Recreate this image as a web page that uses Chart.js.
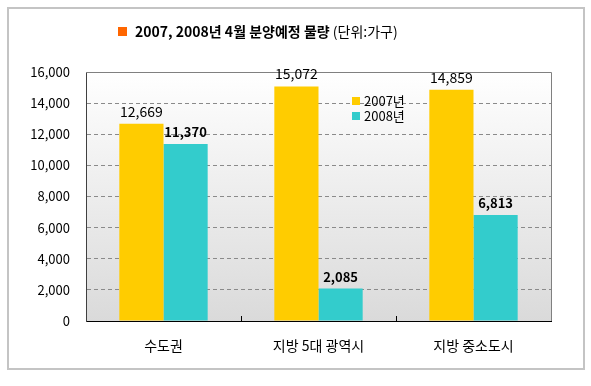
<!DOCTYPE html>
<html><head><meta charset="utf-8">
<script src="https://cdn.jsdelivr.net/npm/chart.js@4/dist/chart.umd.min.js"></script>
<style>html,body{margin:0;padding:0;background:#fff}#wrap{width:591px;height:386px;position:relative}</style>
</head><body><div id="wrap"><canvas id="c" width="591" height="386"></canvas></div>
<script>
const categories = ['수도권', '지방 5대 광역시', '지방 중소도시'];
const series2007 = [12669, 15072, 14859];
const series2008 = [11370, 2085, 6813];
const seriesNames = ['2007년', '2008년'];
const titleBold = '2007, 2008년 4월 분양예정 물량';
const titleUnit = ' (단위:가구)';
const yTicks = [0, 2000, 4000, 6000, 8000, 10000, 12000, 14000, 16000];

const FONT = '"Noto Sans CJK KR", "Noto Sans", sans-serif';
const colors = ['#FFCC00', '#33CCCC'];
const fmt = v => v.toLocaleString('en-US');

const decor = {
  id: 'decor',
  beforeDraw(chart) {
    const {ctx, chartArea: a} = chart;
    ctx.save();
    ctx.fillStyle = '#fff';
    ctx.fillRect(0, 0, chart.width, chart.height);
    ctx.strokeStyle = '#c4c4c4';
    ctx.lineWidth = 2;
    ctx.strokeRect(8, 8, 576, 361);
    const g = ctx.createLinearGradient(0, a.top, 0, a.bottom);
    g.addColorStop(0, '#ffffff');
    g.addColorStop(1, '#dadada');
    ctx.fillStyle = g;
    ctx.fillRect(a.left, a.top, a.right - a.left, a.bottom - a.top);
    ctx.restore();
  },
  afterDraw(chart) {
    const {ctx, chartArea: a} = chart;
    ctx.save();
    ctx.strokeStyle = '#808080';
    ctx.lineWidth = 1;
    ctx.beginPath();
    ctx.moveTo(a.left, a.top + 0.5); ctx.lineTo(a.right + 0.5, a.top + 0.5); ctx.lineTo(a.right + 0.5, a.bottom);
    ctx.stroke();
    const xs = chart.scales.x;
    ctx.strokeStyle = '#000';
    for (let i = 1; i < categories.length; i++) {
      const x = Math.round((xs.getPixelForValue(i - 1) + xs.getPixelForValue(i)) / 2) + 0.5;
      ctx.beginPath(); ctx.moveTo(x, a.bottom); ctx.lineTo(x, a.bottom - 5); ctx.stroke();
    }
    ctx.textAlign = 'center';
    ctx.textBaseline = 'alphabetic';
    chart.data.datasets.forEach((ds, di) => {
      const meta = chart.getDatasetMeta(di);
      ctx.font = di === 0 ? '14px ' + FONT : 'bold 13px ' + FONT;
      ctx.fillStyle = '#000';
      meta.data.forEach((bar, i) => {
        ctx.fillText(fmt(ds.data[i]), bar.x, bar.y - 7);
      });
    });
    ctx.textAlign = 'left';
    ctx.textBaseline = 'middle';
    ctx.font = '13px ' + FONT;
    seriesNames.forEach((n, i) => {
      const y = 101 + i * 15;
      ctx.fillStyle = colors[i];
      ctx.fillRect(352, y - 4, 8, 8);
      ctx.fillStyle = '#000';
      ctx.fillText(n, 364, y);
    });
    ctx.font = 'bold 14px ' + FONT;
    const w1 = ctx.measureText(titleBold).width;
    ctx.font = '14px ' + FONT;
    const w2 = ctx.measureText(titleUnit).width;
    let x = 118;
    ctx.fillStyle = '#FF6600';
    ctx.fillRect(x, 27, 9, 9);
    x = 135;
    ctx.fillStyle = '#000';
    ctx.font = 'bold 14px ' + FONT;
    ctx.fillText(titleBold, x, 32);
    ctx.font = '14px ' + FONT;
    ctx.fillText(titleUnit, x + w1, 32);
    ctx.restore();
  }
};

new Chart(document.getElementById('c'), {
  type: 'bar',
  data: {
    labels: categories,
    datasets: [
      {label: seriesNames[0], data: series2007, backgroundColor: colors[0], borderWidth: 0},
      {label: seriesNames[1], data: series2008, backgroundColor: colors[1], borderWidth: 0}
    ]
  },
  options: {
    responsive: false,
    animation: false,
    devicePixelRatio: 1,
    layout: {padding: {top: 72, right: 40, left: 0, bottom: 0}},
    plugins: {legend: {display: false}, title: {display: false}, tooltip: {enabled: false}},
    datasets: {bar: {barPercentage: 1, categoryPercentage: 0.57}},
    scales: {
      x: {
        grid: {display: false},
        border: {display: true, color: '#000', width: 1},
        ticks: {color: '#000', font: {family: FONT, size: 14}, padding: 8},
        afterFit(s) { s.height = 65; }
      },
      y: {
        min: 0, max: 16000,
        afterBuildTicks(s) { s.ticks = yTicks.map(v => ({value: v})); },
        ticks: {color: '#000', font: {family: FONT, size: 13}, padding: 16, callback: v => fmt(v)},
        grid: {
          color: ctx => (ctx.tick && (ctx.tick.value === 0 || ctx.tick.value === 16000)) ? 'rgba(0,0,0,0)' : '#8a8a8a',
          drawTicks: false, lineWidth: 1
        },
        border: {display: true, color: '#404040', width: 1, dash: [4, 3], dashOffset: 0},
        afterFit(s) { s.width = 86; }
      }
    }
  },
  plugins: [decor]
});
</script></body></html>
